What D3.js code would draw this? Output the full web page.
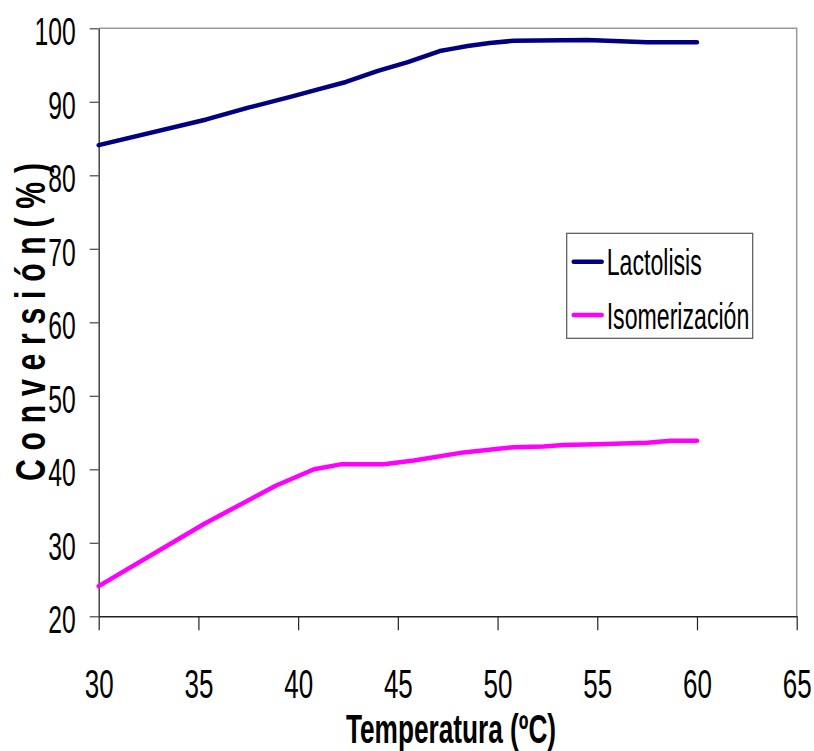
<!DOCTYPE html>
<html>
<head>
<meta charset="utf-8">
<script src="https://cdn.jsdelivr.net/npm/d3@7"></script>
<style>
  html, body { margin: 0; padding: 0; background: #fff; }
  svg { display: block; }
  text { font-family: "Liberation Sans", Arial, sans-serif; }
</style>
</head>
<body>
<svg id="chart" width="814" height="751"></svg>
<script>
// Temperature (ºC) and conversion (%) for each process
const lactolisisTemp = [30, 35.4, 37.5, 39.8, 41, 42.4, 44, 45.5, 47.1, 47.7, 48.5, 49.6, 50.8, 54.5, 57.5, 60];
const lactolisisConv = [84.1, 87.6, 89.2, 90.8, 91.7, 92.7, 94.2, 95.4, 96.9, 97.2, 97.6, 98.0, 98.3, 98.4, 98.1, 98.1];

const isomerTemp = [30, 35.3, 38.9, 40.8, 42.2, 44.3, 45.8, 48.3, 50.8, 52.3, 53.3, 55, 57.5, 58.7, 60];
const isomerConv = [24.1, 32.6, 37.8, 40.0, 40.7, 40.7, 41.2, 42.3, 43.0, 43.1, 43.3, 43.4, 43.6, 43.9, 43.9];

const seriesNames = ["Lactolisis", "Isomerización"];
const seriesColors = ["#000080", "#ff00ff"];

const xTicks = [30, 35, 40, 45, 50, 55, 60, 65];
const yTicks = [20, 30, 40, 50, 60, 70, 80, 90, 100];

const xTitle = "Temperatura (ºC)";
const yTitle = "C o n v e r s i ó n ( % )";

const svg = d3.select("#chart");
const plotLeft = 98.7, plotRight = 796.7, plotTop = 28.3, plotBottom = 616.3;

const x = d3.scaleLinear().domain([30, 65]).range([plotLeft, plotRight]);
const y = d3.scaleLinear().domain([20, 100]).range([plotBottom, plotTop]);

// plot frame (top and right edges)
svg.append("path")
  .attr("d", `M${plotLeft},${plotTop}H${plotRight}V${plotBottom}`)
  .attr("fill", "none")
  .attr("stroke", "#9a9a9a")
  .attr("stroke-width", 1.5);

// Y axis
const yAxis = svg.append("g")
  .attr("transform", `translate(${plotLeft},0)`)
  .call(d3.axisLeft(y).tickValues(yTicks).tickSize(9).tickSizeOuter(0));
yAxis.select(".domain").attr("stroke", "#444").attr("stroke-width", 1.5);
yAxis.selectAll(".tick line").attr("stroke", "#444").attr("stroke-width", 1.2);
yAxis.selectAll(".tick text")
  .attr("x", null).attr("dy", null)
  .attr("transform", "translate(-23,16.5) scale(0.65,1)")
  .attr("font-size", 38)
  .attr("fill", "#000")
  .attr("text-anchor", "end");

// X axis
const xAxis = svg.append("g")
  .attr("transform", `translate(0,${plotBottom})`)
  .call(d3.axisBottom(x).tickValues(xTicks).tickSize(14).tickSizeOuter(0));
xAxis.select(".domain").attr("stroke", "#222").attr("stroke-width", 1.5);
xAxis.selectAll(".tick line").attr("stroke", "#222").attr("stroke-width", 1.2);
xAxis.selectAll(".tick text")
  .attr("y", null).attr("dy", null)
  .attr("transform", "translate(0,82) scale(0.65,1)")
  .attr("font-size", 40)
  .attr("fill", "#000")
  .attr("text-anchor", "middle");

// axis titles
svg.append("text")
  .attr("transform", "translate(451,743) scale(0.64,1)")
  .attr("text-anchor", "middle")
  .attr("font-size", 41)
  .attr("font-weight", "bold")
  .text(xTitle);

// rotated title, letters condensed along the baseline and spread apart
svg.append("text")
  .attr("transform", "translate(45,322) rotate(-90) scale(0.72,1)")
  .attr("text-anchor", "middle")
  .attr("font-size", 42)
  .attr("font-weight", "bold")
  .attr("textLength", 318 / 0.72)
  .attr("lengthAdjust", "spacing")
  .text(yTitle);

// series lines
const line = d3.line().x(d => x(d[0])).y(d => y(d[1]));
const series = [
  d3.zip(lactolisisTemp, lactolisisConv),
  d3.zip(isomerTemp, isomerConv)
];
series.forEach((pts, i) => {
  svg.append("path")
    .datum(pts)
    .attr("d", line)
    .attr("fill", "none")
    .attr("stroke", seriesColors[i])
    .attr("stroke-width", 4.5)
    .attr("stroke-linejoin", "round")
    .attr("stroke-linecap", "round");
});

// legend
const legend = svg.append("g").attr("transform", "translate(566.7,233.3)");
legend.append("rect")
  .attr("width", 186).attr("height", 105)
  .attr("fill", "#fff")
  .attr("stroke", "#555")
  .attr("stroke-width", 1.2);
seriesNames.forEach((name, i) => {
  const cy = 28.4 + i * 53.3;
  legend.append("line")
    .attr("x1", 7).attr("x2", 35)
    .attr("y1", cy).attr("y2", cy)
    .attr("stroke", seriesColors[i])
    .attr("stroke-width", 4.5)
    .attr("stroke-linecap", "round");
  legend.append("text")
    .attr("transform", `translate(40,${cy + 13.5}) scale(0.625,1)`)
    .attr("font-size", 37)
    .attr("fill", "#000")
    .text(name);
});
</script>
</body>
</html>
